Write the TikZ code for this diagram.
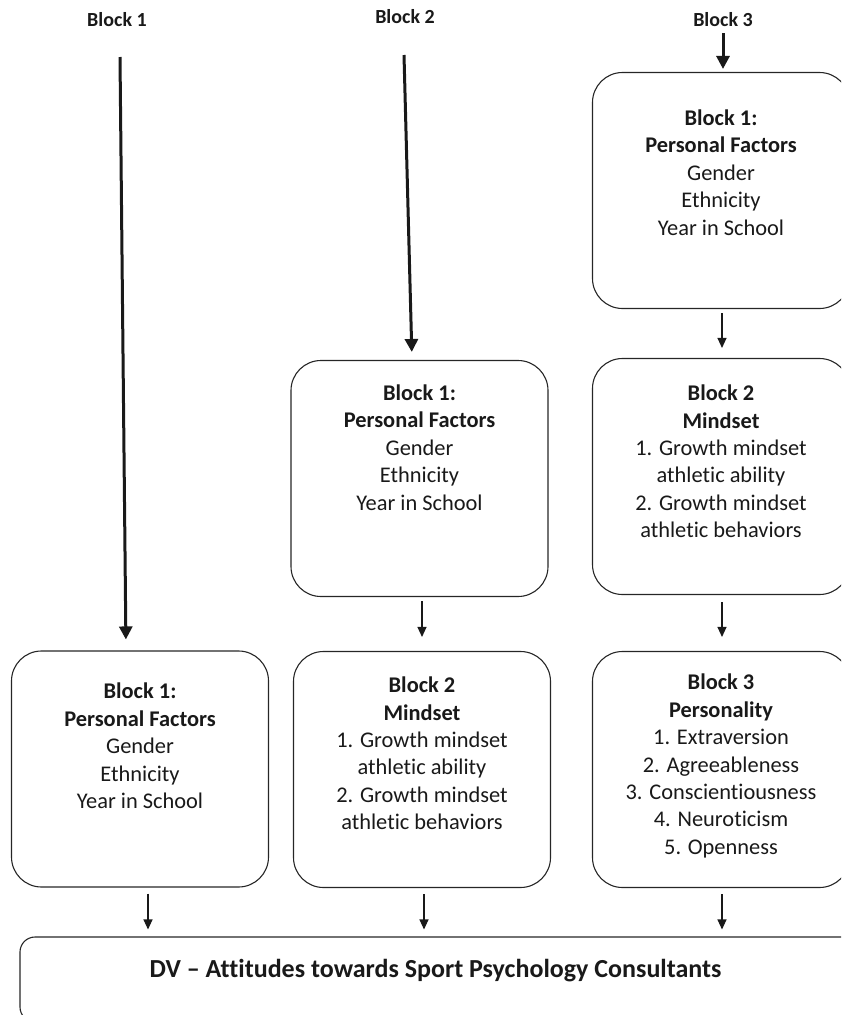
\documentclass[tikz,border=0pt]{standalone}
\usepackage{fontspec}
\setmainfont{Carlito}[Ligatures=NoCommon]
\usetikzlibrary{arrows.meta,calc}
\begin{document}
\begin{tikzpicture}[x=1pt,y=-1pt,
  box/.style={draw=black!85, line width=1.1pt, rounded corners=30pt, inner sep=0pt,
    minimum width=257pt, minimum height=236pt},
  dvbox/.style={draw=black!85, line width=1.1pt, rounded corners=15pt, inner sep=0pt,
    minimum width=860pt, minimum height=85pt},
  txt/.style={align=center, inner sep=0pt, text=black!90,
    font=\fontsize{22.4}{27.4}\selectfont},
  head/.style={inner sep=0pt, text=black!90, font=\fontsize{20}{24}\selectfont\bfseries},
  thin/.style={-{Triangle[length=10pt,width=9pt]}, line width=1.2pt, draw=black!90},
  thickarr/.style={-{Triangle[length=13pt,width=13pt]}, line width=3pt, draw=black!90}]
\useasboundingbox (0,0) rectangle (841,1015);
\clip (0,0) rectangle (841,1015);
% headers
\node[head] (h1) at (117,20) {Block 1};
\node[head] (h2) at (405,17) {Block 2};
\node[head] (h3) at (723,20) {Block 3};
% boxes
\node[box] (b1) at (140,769) {};
\node[box] (m1) at (419.5,478.5) {};
\node[box] (m2) at (422,769.5) {};
\node[box] (r1) at (721,190.5) {};
\node[box] (r2) at (721,476.5) {};
\node[box] (r3) at (721,769.5) {};
\node[dvbox] (dv) at (450,979.5) {};
% texts
\node[txt] (tb1) at (140,746) {\textbf{Block 1:}\\\textbf{Personal Factors}\\Gender\\Ethnicity\\Year in School};
\node[txt] (tm1) at (419.5,447.5) {\textbf{Block 1:}\\\textbf{Personal Factors}\\Gender\\Ethnicity\\Year in School};
\node[txt] (tm2) at (422,753.5) {\textbf{Block 2}\\\textbf{Mindset}\\1. Growth mindset\\athletic ability\\2. Growth mindset\\athletic behaviors};
\node[txt] (tr1) at (721,172.5) {\textbf{Block 1:}\\\textbf{Personal Factors}\\Gender\\Ethnicity\\Year in School};
\node[txt] (tr2) at (721,461.5) {\textbf{Block 2}\\\textbf{Mindset}\\1. Growth mindset\\athletic ability\\2. Growth mindset\\athletic behaviors};
\node[txt] (tr3) at (721,766) {\textbf{Block 3}\\\textbf{Personality}\\1. Extraversion\\2. Agreeableness\\3. Conscientiousness\\4. Neuroticism\\5. Openness};
\node[txt, font=\fontsize{26}{30}\selectfont\bfseries] (tdv) at (435.5,971) {DV – Attitudes towards Sport Psychology Consultants};
% thick arrows
\coordinate (a1) at (120,57);
\coordinate (a2) at (404,55);
\coordinate (a3) at (723,33);
\draw[thickarr, shorten >=11pt] (a1) -- ([xshift=-14pt]b1.north);
\draw[thickarr, shorten >=8pt] (a2) -- ([xshift=-7.5pt]m1.north);
\draw[thickarr, shorten >=3pt] (a3) -- ([xshift=2pt]r1.north);
% thin arrows
\draw[thin, shorten <=4pt, shorten >=10pt] ([xshift=1pt]r1.south) -- ([xshift=1pt]r2.north);
\draw[thin, shorten <=7pt, shorten >=14pt] ([xshift=1pt]r2.south) -- ([xshift=1pt]r3.north);
\draw[thin, shorten <=4pt, shorten >=14pt] ([xshift=2.5pt]m1.south) -- ([xshift=0pt]m2.north);
\draw[thin, shorten <=6pt, shorten >=7pt] ([xshift=8pt]b1.south) -- ([xshift=8pt]b1.south |- dv.north);
\draw[thin, shorten <=6pt, shorten >=7pt] ([xshift=2pt]m2.south) -- ([xshift=2pt]m2.south |- dv.north);
\draw[thin, shorten <=6pt, shorten >=7pt] ([xshift=1pt]r3.south) -- ([xshift=1pt]r3.south |- dv.north);
\end{tikzpicture}
\end{document}
